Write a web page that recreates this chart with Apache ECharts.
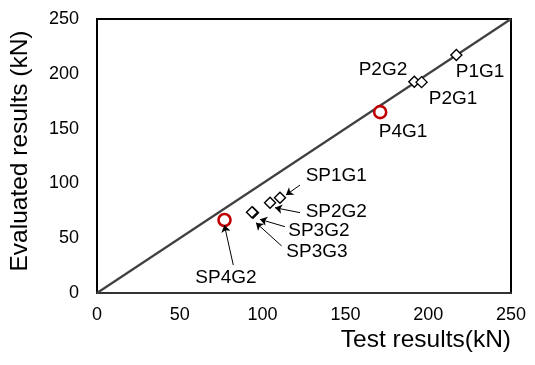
<!DOCTYPE html>
<html><head><meta charset="utf-8">
<script src="https://cdn.jsdelivr.net/npm/echarts@6/dist/echarts.min.js"></script>
<style>html,body{margin:0;padding:0;background:#fff}#c{width:535px;height:365px}</style>
</head><body><div id="c"></div>
<script>
// Data
const diamondNames = ['P1G1','P2G2','P2G1','SP1G1','SP2G2','SP3G2','SP3G3'];
const diamondTest  = [217, 191.6, 196, 110.5, 104.5, 94.2, 93.6];
const diamondEval  = [217.2, 192.8, 192.4, 87, 82.4, 73.2, 73.7];
const circleNames = ['P4G1','SP4G2'];
const circleTest  = [171, 77];
const circleEval  = [165, 66.6];
const xTicks = [0,50,100,150,200,250];
const yTicks = [0,50,100,150,200,250];
// label anchor positions (data units) and arrows
const labelNames = ['P1G1','P2G2','P2G1','P4G1','SP1G1','SP2G2','SP3G2','SP3G3','SP4G2'];
const labelX = [231.3,172.7,215,184.8,144.5,144.5,134,132.8,77.9];
const labelY = [201.6,203.5,177,146.9,106.8,73.9,56.6,37.4,13.7];
const arrows = [
  [[122.6,98.5],[114.1,89.4]],
  [[122.6,73.3],[107.5,77.8]],
  [[113.5,60.5],[98.4,67.2]],
  [[111.5,42.9],[96,64.1]],
  [[82.3,25.5],[76.9,62]]
];
const font = 'Liberation Sans, Arial, sans-serif';
const chart = echarts.init(document.getElementById('c'));
chart.setOption({
  animation:false,
  grid:{left:97,right:24,top:19,bottom:72,outerBoundsMode:'none',containLabel:false,show:true,borderColor:'#000',borderWidth:2,backgroundColor:'transparent'},
  xAxis:{type:'value',min:xTicks[0],max:xTicks[xTicks.length-1],interval:50,
    axisLine:{show:true,lineStyle:{color:'#333',width:2}},axisTick:{show:false},splitLine:{show:false},
    axisLabel:{color:'#000',fontSize:18,fontFamily:font,margin:13},
    name:'Test results(kN)',nameLocation:'end',nameGap:0,
    nameTextStyle:{color:'#000',fontSize:24.5,fontFamily:font,align:'right',verticalAlign:'top',padding:[35,0,0,0]}},
  yAxis:{type:'value',min:yTicks[0],max:yTicks[yTicks.length-1],interval:50,
    axisLine:{show:true,lineStyle:{color:'#000',width:2}},axisTick:{show:false},splitLine:{show:false},
    axisLabel:{color:'#000',fontSize:18,fontFamily:font,margin:18},
    name:'Evaluated results (kN)',nameLocation:'middle',nameGap:64,nameRotate:90,
    nameTextStyle:{color:'#000',fontSize:24.5,fontFamily:font,padding:[0,0,0,10]}},
  series:[
    {type:'line',data:[[xTicks[0],yTicks[0]],[xTicks[xTicks.length-1],yTicks[yTicks.length-1]]],
      symbol:'none',lineStyle:{color:'#404040',width:2.2},z:1},
    {type:'scatter',symbol:'diamond',symbolSize:11,
      data:diamondTest.map((v,i)=>({name:diamondNames[i],value:[v,diamondEval[i]]})),
      itemStyle:{color:'#fff',borderColor:'#000',borderWidth:1.4,opacity:1},z:3},
    {type:'scatter',symbol:'circle',symbolSize:12,
      data:circleTest.map((v,i)=>({name:circleNames[i],value:[v,circleEval[i]]})),
      itemStyle:{color:'#fff',borderColor:'#C00000',borderWidth:2.6,opacity:1},z:3},
    {type:'scatter',symbol:'circle',symbolSize:0,silent:true,
      data:labelX.map((v,i)=>({name:labelNames[i],value:[v,labelY[i]]})),
      itemStyle:{opacity:1},
      label:{show:true,position:'inside',formatter:'{b}',color:'#000',fontSize:19,fontFamily:font},
      markLine:{silent:true,symbol:['none','arrow'],symbolSize:7,
        lineStyle:{color:'#000',width:1,type:'solid',opacity:1},label:{show:false},
        data:arrows.map(a=>[{coord:a[0]},{coord:a[1]}])},z:4}
  ]
});
</script></body></html>
